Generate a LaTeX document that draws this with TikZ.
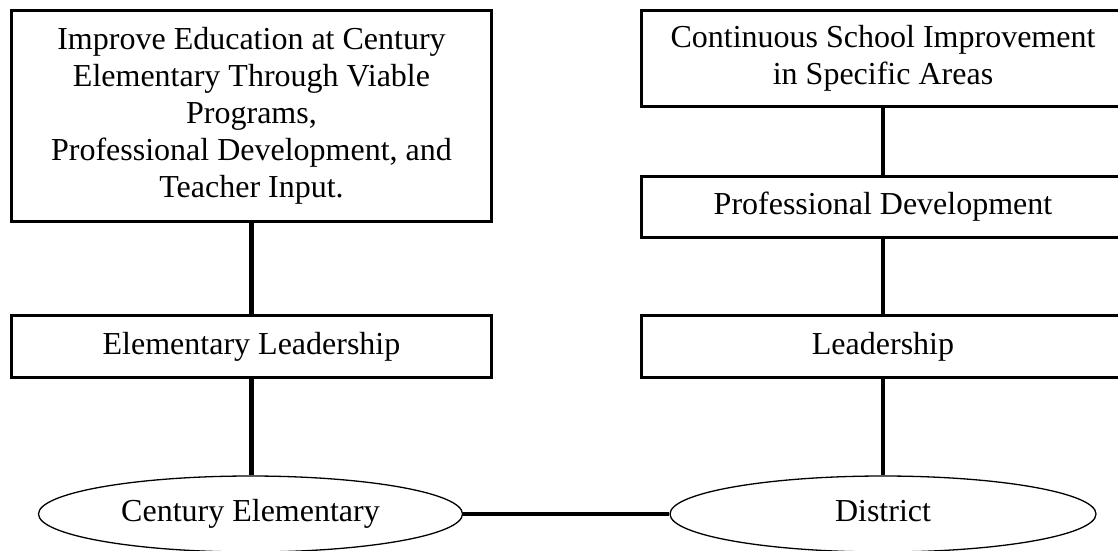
\documentclass[tikz,border=0pt]{standalone}
\usepackage{fontspec}
\setmainfont{Liberation Serif}
\usetikzlibrary{shapes.geometric}
\begin{document}
\begin{tikzpicture}[x=1pt,y=-1pt,
  txt/.style={font=\fontsize{32}{37}\selectfont, text=black, align=center, inner sep=0pt},
  oneline/.style={text height=22pt, text depth=7pt},
  boxnode/.style={txt, draw=black, line width=3.4pt, rectangle, minimum width=479.5pt},
  rboxnode/.style={txt, draw=black, line width=3.4pt, rectangle, minimum width=482.5pt},
  ovalnode/.style={txt, oneline, draw=black, line width=1.3pt, ellipse},
  link/.style={draw=black, line width=4.8pt}]
\useasboundingbox (0,0) rectangle (1118,550);
\fill[white] (0,0) rectangle (1118,550);
% left column
\node[boxnode, minimum height=210.5pt] (goal) at (251.5,116)
  {Improve Education at Century\\Elementary Through Viable\\Programs,\\Professional Development, and\\Teacher Input.};
\node[boxnode, oneline, minimum height=61.5pt] (eleader) at (251.5,346.5) {Elementary Leadership};
\node[ovalnode, minimum width=424pt, minimum height=76pt] (ce) at (250.5,514) {Century Elementary};
% right column
\node[rboxnode, minimum height=95.5pt] (csi) at (883,58.5)
  {Continuous School Improvement\\in Specific Areas};
\node[rboxnode, oneline, minimum height=60.5pt] (pd) at (883,207) {Professional Development};
\node[rboxnode, oneline, minimum height=61.5pt] (lead) at (883,346.5) {Leadership};
\node[ovalnode, minimum width=426pt, minimum height=76pt] (district) at (883,514) {District};
% connectors
\draw[link] (goal.south) -- (eleader.north);
\draw[link] (eleader.south) -- (eleader.south |- ce.north);
\draw[link] (csi.south) -- (pd.north);
\draw[link] (pd.south) -- (lead.north);
\draw[link] (lead.south) -- (district.north);
\draw[link] (ce.east) -- (district.west);
\end{tikzpicture}
\end{document}
